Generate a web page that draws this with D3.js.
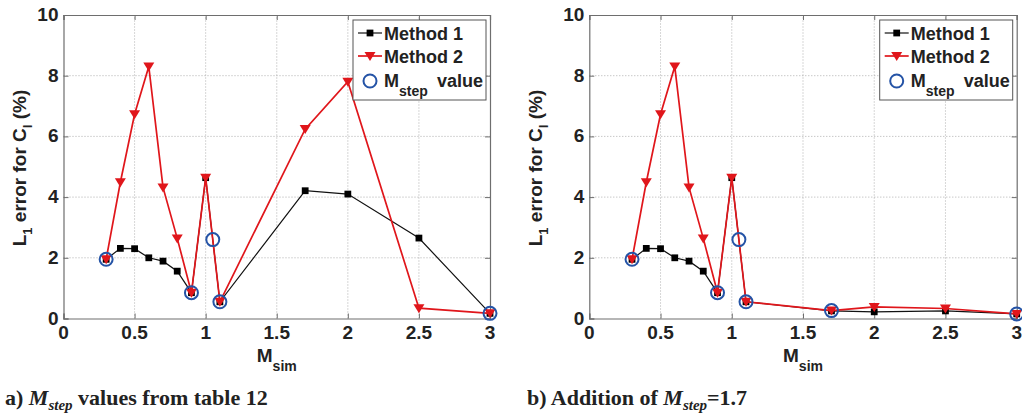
<!DOCTYPE html>
<html>
<head>
<meta charset="utf-8">
<script src="https://cdn.jsdelivr.net/npm/d3@7"></script>
<style>
  body { margin: 0; background: #fff; }
  svg { display: block; }
  .tick-label { font-family: "Liberation Sans", Arial, sans-serif; font-weight: bold; font-size: 19px; fill: #222; }
  .legend-text { font-family: "Liberation Sans", Arial, sans-serif; font-weight: bold; font-size: 18px; fill: #222; }
  .caption { font-family: "Liberation Serif", "Times New Roman", serif; font-weight: bold; font-size: 22px; fill: #222; }
</style>
</head>
<body>
<svg id="chart" width="1022" height="414"></svg>
<script>
// Axis ticks
const xTicks = [0, 0.5, 1, 1.5, 2, 2.5, 3];
const yTicks = [0, 2, 4, 6, 8, 10];

// Simulated Mach numbers (shared by both panels)
const mSim = [0.3, 0.4, 0.5, 0.6, 0.7, 0.8, 0.9, 1.0, 1.1, 1.7, 2.0, 2.5, 3.0];

// Panel a: M_step values from table 12
const method1A = [1.95, 2.31, 2.30, 2.00, 1.89, 1.56, 0.85, 4.64, 0.55, 4.21, 4.10, 2.65, 0.17];
const method2A = [1.95, 4.49, 6.73, 8.30, 4.32, 2.64, 0.85, 4.64, 0.55, 6.24, 7.80, 0.34, 0.17];
const stepXA = [0.3, 0.9, 1.05, 1.1, 3.0];
const stepYA = [1.95, 0.85, 2.60, 0.55, 0.17];

// Panel b: with an added M_step = 1.7
const method1B = [1.95, 2.31, 2.30, 2.00, 1.89, 1.56, 0.85, 4.64, 0.55, 0.25, 0.22, 0.25, 0.15];
const method2B = [1.95, 4.49, 6.73, 8.30, 4.32, 2.64, 0.85, 4.64, 0.55, 0.26, 0.38, 0.33, 0.15];
const stepXB = [0.3, 0.9, 1.05, 1.1, 1.7, 3.0];
const stepYB = [1.95, 0.85, 2.60, 0.55, 0.26, 0.15];

// Legend entries
const legendLabels = ["Method 1", "Method 2", "M", "step", "value"];

const svg = d3.select("#chart");

function drawPanel(cfg) {
  const x = d3.scaleLinear().domain([0, 3]).range([cfg.left, cfg.right]);
  const y = d3.scaleLinear().domain([0, 10]).range([318.5, 15]);
  const g = svg.append("g");

  // dotted grid
  g.selectAll("line.gx").data(xTicks.slice(1, -1)).join("line")
    .attr("x1", d => x(d)).attr("x2", d => x(d))
    .attr("y1", y(0)).attr("y2", y(10))
    .attr("stroke", "#9a9a9a").attr("stroke-width", 0.8).attr("stroke-dasharray", "1,2");
  g.selectAll("line.gy").data(yTicks.slice(1, -1)).join("line")
    .attr("x1", x(0)).attr("x2", x(3))
    .attr("y1", d => y(d)).attr("y2", d => y(d))
    .attr("stroke", "#9a9a9a").attr("stroke-width", 0.8).attr("stroke-dasharray", "1,2");

  // axes with inward ticks on all four sides
  const axB = d3.axisBottom(x).tickValues(xTicks).tickSize(-5).tickFormat("");
  const axT = d3.axisTop(x).tickValues(xTicks).tickSize(-5).tickFormat("");
  const axL = d3.axisLeft(y).tickValues(yTicks).tickSize(-5).tickFormat("");
  const axR = d3.axisRight(y).tickValues(yTicks).tickSize(-5).tickFormat("");
  [[axB, `translate(0,${y(0)})`], [axT, `translate(0,${y(10)})`],
   [axL, `translate(${x(0)},0)`], [axR, `translate(${x(3)},0)`]].forEach(([ax, tr]) => {
    const a = g.append("g").attr("transform", tr).call(ax);
    a.selectAll("path").attr("stroke", "#6e6e6e").attr("stroke-width", 1.2);
    a.selectAll("line").attr("stroke", "#6e6e6e");
  });

  // tick labels
  g.selectAll("text.xl").data(xTicks).join("text")
    .attr("class", "tick-label").attr("x", d => x(d)).attr("y", 339)
    .attr("text-anchor", "middle").text(d => d);
  g.selectAll("text.yl").data(yTicks).join("text")
    .attr("class", "tick-label").attr("x", x(0) - 5).attr("y", d => y(d) + 6)
    .attr("text-anchor", "end").text(d => d);

  // axis titles
  const xt = g.append("text").attr("class", "tick-label")
    .attr("x", (cfg.left + cfg.right) / 2).attr("y", 362).attr("text-anchor", "middle");
  xt.append("tspan").text("M");
  xt.append("tspan").attr("dy", 9).attr("font-size", 14).text("sim");

  const yt = g.append("text").attr("class", "tick-label")
    .attr("transform", `translate(${cfg.yTitleX},168) rotate(-90)`).attr("text-anchor", "middle");
  yt.append("tspan").text("L");
  yt.append("tspan").attr("dy", 6).attr("font-size", 13).text("1");
  yt.append("tspan").attr("dy", -6).text(" error for C");
  yt.append("tspan").attr("dy", 6).attr("font-size", 13).text("l");
  yt.append("tspan").attr("dy", -6).text(" (%)");

  const line = d3.line().x(d => x(d[0])).y(d => y(d[1]));
  const m1 = mSim.map((v, i) => [v, cfg.m1[i]]);
  const m2 = mSim.map((v, i) => [v, cfg.m2[i]]);
  const st = cfg.sx.map((v, i) => [v, cfg.sy[i]]);

  const sq = d3.symbol().type(d3.symbolSquare).size(46);
  const tri = "M-5.5,-4 L5.5,-4 L0,5 Z";

  // Method 1
  g.append("path").attr("d", line(m1)).attr("fill", "none").attr("stroke", "#111").attr("stroke-width", 1.2);
  g.selectAll("path.m1").data(m1).join("path")
    .attr("d", sq).attr("transform", d => `translate(${x(d[0])},${y(d[1])})`).attr("fill", "#000");

  // Method 2
  g.append("path").attr("d", line(m2)).attr("fill", "none").attr("stroke", "#e0161b").attr("stroke-width", 1.7);
  g.selectAll("path.m2").data(m2).join("path")
    .attr("d", tri).attr("transform", d => `translate(${x(d[0])},${y(d[1])})`).attr("fill", "#e0161b");

  // M_step markers
  g.selectAll("circle.st").data(st).join("circle")
    .attr("cx", d => x(d[0])).attr("cy", d => y(d[1])).attr("r", 6.5)
    .attr("fill", "none").attr("stroke", "#2453a6").attr("stroke-width", 2);

  // legend
  const lx = cfg.right - 137, ly = 20;
  const lg = g.append("g").attr("transform", `translate(${lx},${ly})`);
  lg.append("rect").attr("width", 133).attr("height", 80)
    .attr("fill", "#fff").attr("stroke", "#555").attr("stroke-width", 1);
  lg.append("line").attr("x1", 5).attr("x2", 29).attr("y1", 13).attr("y2", 13).attr("stroke", "#111").attr("stroke-width", 1.2);
  lg.append("path").attr("d", sq).attr("transform", "translate(17,13)").attr("fill", "#000");
  lg.append("text").attr("class", "legend-text").attr("x", 31).attr("y", 19.5).text(legendLabels[0]);
  lg.append("line").attr("x1", 5).attr("x2", 29).attr("y1", 36).attr("y2", 36).attr("stroke", "#e0161b").attr("stroke-width", 1.7);
  lg.append("path").attr("d", tri).attr("transform", "translate(17,36)").attr("fill", "#e0161b");
  lg.append("text").attr("class", "legend-text").attr("x", 31).attr("y", 42.5).text(legendLabels[1]);
  lg.append("circle").attr("cx", 17).attr("cy", 61).attr("r", 6.5)
    .attr("fill", "none").attr("stroke", "#2453a6").attr("stroke-width", 2);
  const lt = lg.append("text").attr("class", "legend-text").attr("x", 31).attr("y", 66.5);
  lt.append("tspan").text(legendLabels[2]);
  lt.append("tspan").attr("dy", 9).attr("font-size", 14).text(legendLabels[3]);
  lt.append("tspan").attr("dy", -9).attr("x", 84).text(legendLabels[4]);

  // caption
  const cp = svg.append("text").attr("class", "caption").attr("x", cfg.capX).attr("y", 405);
  cp.append("tspan").text(cfg.capPre);
  cp.append("tspan").attr("font-style", "italic").text("M");
  cp.append("tspan").attr("font-style", "italic").attr("font-size", 15).attr("dy", 5).text("step");
  cp.append("tspan").attr("dy", -5).text(cfg.capPost);
}

drawPanel({ left: 63.5, right: 490, yTitleX: 26, m1: method1A, m2: method2A, sx: stepXA, sy: stepYA,
            capX: 5, capPre: "a) ", capPost: " values from table 12" });
drawPanel({ left: 589.3, right: 1016.7, yTitleX: 542, m1: method1B, m2: method2B, sx: stepXB, sy: stepYB,
            capX: 527, capPre: "b) Addition of ", capPost: "=1.7" });
</script>
</body>
</html>
